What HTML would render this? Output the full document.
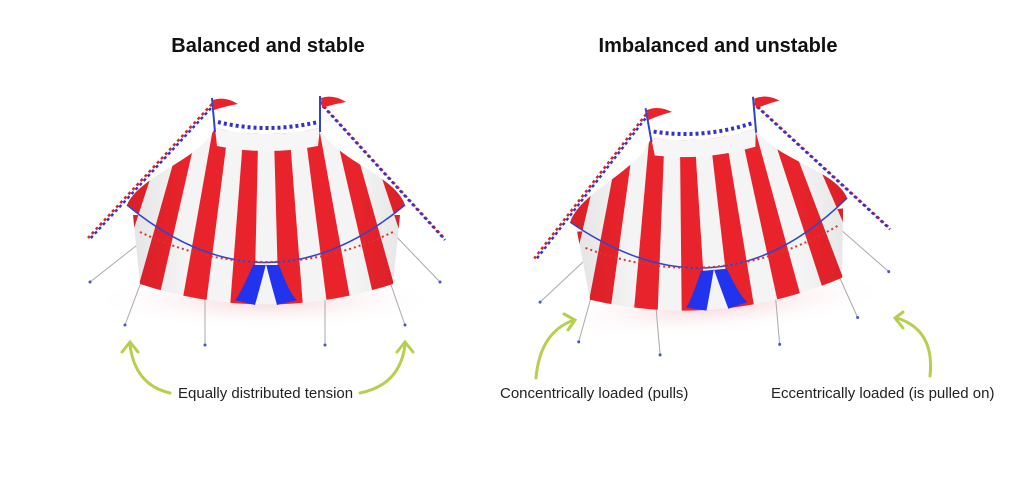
<!DOCTYPE html>
<html><head><meta charset="utf-8"><style>
html,body{margin:0;padding:0;background:#fff;}
body{width:1024px;height:483px;overflow:hidden;position:relative;font-family:"Liberation Sans",sans-serif;}
.t{position:absolute;top:35px;font-weight:bold;font-size:20px;color:#111;text-align:center;width:400px;}
.l{position:absolute;top:385px;font-size:15px;color:#222;font-family:"Liberation Sans",sans-serif;white-space:nowrap;}
svg{position:absolute;left:0;top:0;}
</style></head><body>
<svg width="1024" height="483" viewBox="0 0 1024 483">
<defs>
<linearGradient id="sh" x1="0" x2="1" y1="0" y2="0">
<stop offset="0" stop-color="#000" stop-opacity="0.15"/><stop offset="0.3" stop-color="#000" stop-opacity="0"/>
<stop offset="0.7" stop-color="#000" stop-opacity="0"/><stop offset="1" stop-color="#000" stop-opacity="0.15"/>
</linearGradient>
<radialGradient id="gs"><stop offset="0" stop-color="#f3c8cc" stop-opacity="0.8"/><stop offset="1" stop-color="#fff" stop-opacity="0"/></radialGradient>
<clipPath id="cr"><path d="M127,205 C140,175 200,160 215,128 Q266,140 320,128 C335,160 395,175 405,205 Q266,320 127,205 Z"/></clipPath>
<clipPath id="cd"><path d="M133,215 L140,284 Q266,325 393,284 L400,215 Z"/></clipPath>
<g id="stripes">
<rect x="60" y="90" width="420" height="240" fill="#f4f4f4"/>
<g fill="#e8232b">
<polygon points="79,320 104,320 176,100 163,100"/>
<polygon points="129,320 154,320 204,100 191,100"/>
<polygon points="179,320 204,320 232,100 218,100"/>
<polygon points="229,320 254,320 259,100 246,100"/>
<polygon points="279,320 304,320 287,100 273,100"/>
<polygon points="329,320 354,320 314,100 301,100"/>
<polygon points="379,320 404,320 342,100 328,100"/>
<polygon points="429,320 454,320 369,100 356,100"/>
</g>
<rect x="60" y="90" width="420" height="240" fill="url(#sh)"/>
</g>
<g id="tent">
<ellipse cx="266" cy="300" rx="175" ry="30" fill="url(#gs)"/>
<g stroke="#aaa" stroke-width="1">
<line x1="150" y1="235" x2="90" y2="282"/><line x1="155" y1="245" x2="125" y2="325"/>
<line x1="205" y1="258" x2="205" y2="345"/><line x1="325" y1="258" x2="325" y2="345"/>
<line x1="377" y1="245" x2="405" y2="325"/><line x1="390" y1="230" x2="440" y2="282"/>
</g>
<g fill="#4455cc"><circle cx="90" cy="282" r="1.5"/><circle cx="125" cy="325" r="1.5"/><circle cx="205" cy="345" r="1.5"/><circle cx="325" cy="345" r="1.5"/><circle cx="405" cy="325" r="1.5"/><circle cx="440" cy="282" r="1.5"/></g>
<path d="M212,104 L88,238 M320,102 L444,238" stroke="#d22" stroke-width="2.5" stroke-dasharray="3 3" fill="none"/>
<path d="M212,104 L88,238 M320,102 L444,238" stroke="#33c" stroke-width="2.5" stroke-dasharray="3 3" stroke-dashoffset="3" fill="none" transform="translate(1,2)"/>
<g clip-path="url(#cd)"><use href="#stripes"/></g>
<g clip-path="url(#cr)"><use href="#stripes"/></g>
<path d="M215,128 Q266,140 320,128 L318,146 Q266,156 217,146 Z" fill="#f6f6f6"/>
<path d="M127,205 Q266,320 405,205" stroke="#3344cc" stroke-width="1.5" fill="none"/>
<path d="M140,232 Q266,292 393,232" stroke="#d33" stroke-width="2" stroke-dasharray="2 3" fill="none"/>
<path d="M218,122 Q266,134 318,122" stroke="#33c" stroke-width="4" stroke-dasharray="3 3" fill="none"/>
<path d="M253,265 Q240,295 235,300 L255,305 Q262,280 266,264 Q270,280 277,305 L297,300 Q290,295 279,265 Z" fill="#2233ee"/>
<line x1="212" y1="98" x2="215" y2="132" stroke="#3344cc" stroke-width="2"/>
<line x1="320" y1="96" x2="320" y2="132" stroke="#3344cc" stroke-width="2"/>
<path d="M213,100 Q225,96 238,104 Q226,106 214,110 Z" fill="#e8232b"/>
<path d="M321,98 Q333,94 346,102 Q334,104 322,108 Z" fill="#e8232b"/>
</g>
</defs>
<use href="#tent"/>
<use href="#tent" transform="translate(444,5) rotate(-5 266 220)"/>
<g stroke="#b7cf4f" stroke-width="3" fill="none" stroke-linecap="round">
<path d="M170,393 Q135,385 130,345"/><path d="M122,352 L130,342 L138,352"/>
<path d="M360,393 Q400,385 405,345"/><path d="M397,352 L405,342 L413,352"/>
<path d="M536,378 Q540,332 574,320"/><path d="M564,314 L575,320 L568,330"/>
<path d="M930,376 Q935,330 897,318"/><path d="M903,312 L895,318 L903,328"/>
</g>
</svg>
<div class="t" style="left:68px">Balanced and stable</div>
<div class="t" style="left:518px">Imbalanced and unstable</div>
<div class="l" style="left:178px">Equally distributed tension</div>
<div class="l" style="left:500px">Concentrically loaded (pulls)</div>
<div class="l" style="left:771px">Eccentrically loaded (is pulled on)</div>
</body></html>
